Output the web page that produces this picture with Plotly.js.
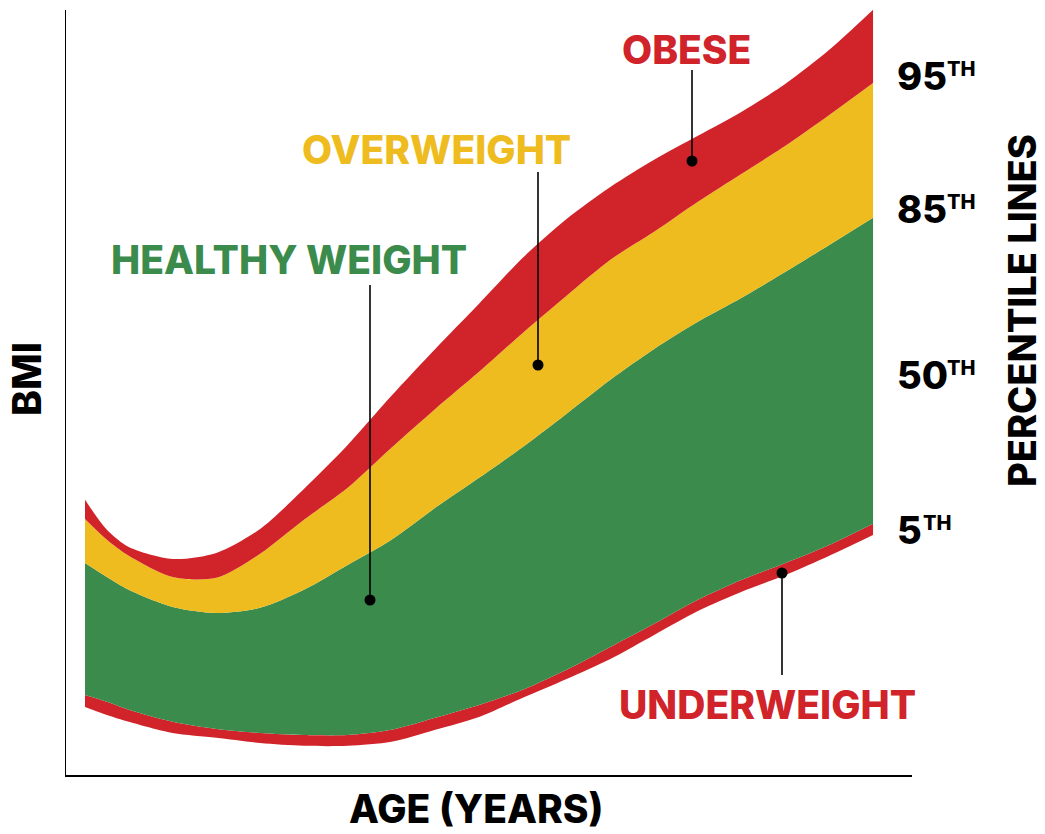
<!DOCTYPE html>
<html>
<head>
<meta charset="utf-8">
<script src="https://cdn.plot.ly/plotly-3.0.1.min.js"></script>
<style>
html,body{margin:0;padding:0;background:#fff;}
#chart{width:1045px;height:834px;}
</style>
</head>
<body>
<div id="chart"></div>
<script>
// Age in years
const ages = [2, 2.5, 3, 4, 5, 6, 7, 8, 9, 10, 11, 12, 13, 14, 15, 16, 17, 18, 19, 20];
// Lower edge of the underweight band
const underweightLow = [13.70, 13.50, 13.33, 13.05, 12.93, 12.80, 12.73, 12.73, 12.83, 13.13, 13.45, 13.93, 14.40, 14.90, 15.50, 16.10, 16.58, 17.00, 17.48, 18.00];
// 5th percentile
const p5 = [14.00, 13.83, 13.63, 13.33, 13.15, 13.05, 13.00, 13.00, 13.13, 13.43, 13.75, 14.13, 14.63, 15.20, 15.78, 16.38, 16.88, 17.30, 17.75, 18.28];
// 85th percentile
const p85 = [17.30, 16.95, 16.63, 16.20, 16.05, 16.18, 16.63, 17.25, 17.88, 18.68, 19.43, 20.20, 21.03, 21.88, 22.65, 23.33, 23.93, 24.58, 25.25, 25.93];
// 95th percentile
const p95 = [18.40, 17.88, 17.48, 16.95, 16.93, 17.53, 18.38, 19.18, 20.18, 21.15, 22.08, 23.05, 23.98, 24.88, 25.58, 26.33, 27.03, 27.73, 28.50, 29.30];
// Upper edge of the obese band
const obeseHigh = [18.88, 18.13, 17.70, 17.40, 17.55, 18.15, 19.15, 20.25, 21.48, 22.65, 23.78, 24.93, 25.90, 26.70, 27.38, 27.98, 28.58, 29.28, 30.13, 31.13];

const bandNames = ['UNDERWEIGHT', 'HEALTHY WEIGHT', 'OVERWEIGHT', 'OBESE'];
const percentileLabels = ['95', '85', '50', '5'];

const RED = '#D1232A', YELLOW = '#EEBC1E', GREEN = '#3B8B4D';
const FONT = 'Inter, Lato, "DejaVu Sans", sans-serif';

// pixel -> data / paper helpers for annotation placement
const X = px => 2 + (px - 85) / 43.78;
const Y = py => 12 + (775 - py) / 40;
const PX = px => (px - 66) / 846;
const PY = py => (775 - py) / 765;

function band(y, color, fill) {
  return {x: ages, y: y, type: 'scatter', mode: 'lines',
    line: {width: 0, shape: 'spline', smoothing: 0.8, color: color},
    fill: fill ? 'tonexty' : 'none', fillcolor: color, hoverinfo: 'skip', showlegend: false};
}

const traces = [
  band(underweightLow, RED, false),
  band(p5, RED, true),
  band(p85, GREEN, true),
  band(p95, YELLOW, true),
  band(obeseHigh, RED, true)
];

// dots of the leader lines
const dotsPx = [[692,161],[538,365],[370,600],[782,573]];
traces.push({x: dotsPx.map(d => X(d[0])), y: dotsPx.map(d => Y(d[1])), type: 'scatter', mode: 'markers',
  marker: {color: '#000', size: 11}, hoverinfo: 'skip', showlegend: false});

const leaders = [[692,70,161],[538,172,365],[370,285,600],[782,573,675]];
const shapes = leaders.map(l => ({type: 'line', xref: 'x', yref: 'y',
  x0: X(l[0]), x1: X(l[0]), y0: Y(l[1]), y1: Y(l[2]), line: {color: '#000', width: 1.6}}));

const W = 800;
const labelFont = (c) => ({family: FONT, size: 39, color: c, weight: W});
const P = (text, px, py, font, extra) => Object.assign({text: text, x: PX(px), y: PY(py), xref: 'paper', yref: 'paper',
  showarrow: false, xanchor: 'center', yanchor: 'middle', font: font}, extra || {});

const annotations = [
  P(bandNames[3], 686, 49, labelFont(RED)),
  P(bandNames[2], 436, 149, labelFont(YELLOW)),
  P(bandNames[1], 289, 259, labelFont(GREEN)),
  P(bandNames[0], 767, 704, labelFont(RED))
];

// percentile labels on the right
const pctPos = [[895,76],[895,209],[895,375],[895,530]];
percentileLabels.forEach((t, i) => {
  const [px, py] = pctPos[i];
  annotations.push(P(t, px, py, {family: FONT, size: 38, color: '#000', weight: W}, {xanchor: 'left'}));
  const thX = px + (t.length === 2 ? 50 : 26);
  annotations.push(P('TH', thX, py - 7, {family: FONT, size: 20, color: '#000', weight: W}, {xanchor: 'left'}));
});

const axisFont = {family: FONT, size: 39, color: '#000', weight: W};
annotations.push(P('PERCENTILE LINES', 1022, 311, {family: FONT, size: 38, color: '#000', weight: W}, {textangle: -90}));
annotations.push(P('BMI', 27, 379, axisFont, {textangle: -90}));
annotations.push(P('AGE (YEARS)', 476, 808, axisFont));

const layout = {
  width: 1045, height: 834,
  margin: {l: 66, r: 133, t: 10, b: 59},
  paper_bgcolor: '#fff', plot_bgcolor: '#fff',
  showlegend: false,
  xaxis: {range: [X(66), X(912)], showline: true, linecolor: '#000', linewidth: 1.5, showgrid: false,
    zeroline: false, showticklabels: false, ticks: '', fixedrange: true},
  yaxis: {range: [Y(775), Y(10)], showline: true, linecolor: '#000', linewidth: 1.5, showgrid: false,
    zeroline: false, showticklabels: false, ticks: '', fixedrange: true},
  shapes: shapes,
  annotations: annotations
};

Plotly.newPlot('chart', traces, layout, {displayModeBar: false, staticPlot: true});
</script>
</body>
</html>
